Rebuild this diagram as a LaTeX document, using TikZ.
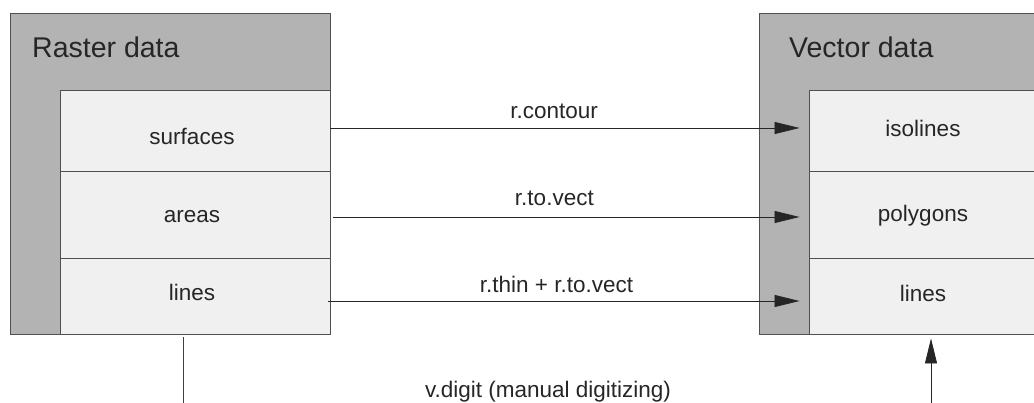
\documentclass[tikz,border=0pt]{standalone}
\usepackage{fontspec}
\setmainfont{Liberation Sans}
\usetikzlibrary{arrows.meta}
\definecolor{boxgray}{HTML}{B3B3B3}
\definecolor{cellfill}{HTML}{F0F0F0}
\definecolor{edgegray}{HTML}{505050}
\definecolor{txt}{HTML}{262626}
\begin{document}
\begin{tikzpicture}[x=1pt,y=-1pt,
  outerbox/.style={draw=edgegray, fill=boxgray, line width=1pt, rectangle, inner sep=0pt, anchor=north west},
  cellbox/.style={draw=edgegray, fill=cellfill, line width=0.9pt, rectangle, inner sep=0pt, text=txt,
    font=\fontsize{22.5}{26}\selectfont},
  titletext/.style={anchor=base west, inner sep=0pt, text=txt, font=\fontsize{28.5}{32}\selectfont},
  lbltext/.style={inner sep=0pt, text=txt, font=\fontsize{22.5}{26}\selectfont},
  conv/.style={draw=black!85, line width=0.8pt, -{Triangle[length=25pt,width=12pt]}},
  plainline/.style={draw=black!75, line width=0.8pt}]
\useasboundingbox (0,0) rectangle (1034,403);
\clip (0,0) rectangle (1034,403);
% Raster side
\node[outerbox, minimum width=320pt, minimum height=321pt] (raster) at (10,13) {};
\node[titletext] (rtitle) at (32,58) {Raster data};
\node[cellbox, minimum width=270pt, minimum height=81pt, text height=29pt, text depth=0pt] (surfaces) at (195,130.5) {\kern-6pt surfaces};
\node[cellbox, minimum width=270pt, minimum height=87pt, text height=17pt, text depth=0pt] (areas) at (195,214.5) {\kern-6pt areas};
\node[cellbox, minimum width=270pt, minimum height=76pt, text height=16pt, text depth=6pt] (rlines) at (195,296) {\kern-6pt lines};
% Vector side
\node[outerbox, minimum width=280pt, minimum height=321pt] (vector) at (759,13) {};
\node[titletext] (vtitle) at (789,58) {Vector data};
\node[cellbox, minimum width=228pt, minimum height=81pt, text height=16pt, text depth=3pt] (isolines) at (923,130.5) {isolines};
\node[cellbox, minimum width=228pt, minimum height=87pt, text height=16pt, text depth=1pt] (polygons) at (923,214.5) {polygons};
\node[cellbox, minimum width=228pt, minimum height=76pt, text height=16pt, text depth=4pt] (vlines) at (923,296) {lines};
% Conversions
\draw[conv, shorten >=9pt] ([yshift=2.5pt]surfaces.east) -- ([yshift=2.5pt]isolines.west)
  node[lbltext, pos=0.468, anchor=base, yshift=9pt] (lcontour) {r.contour};
\draw[conv, shorten >=9pt] ([xshift=3pt,yshift=-2.5pt]areas.east) -- ([yshift=-2.5pt]polygons.west)
  node[lbltext, pos=0.465, anchor=base, yshift=11pt] (lvect) {r.to.vect};
\draw[conv, shorten >=9pt] ([xshift=-2pt,yshift=-5pt]rlines.east) -- ([yshift=-5pt]vlines.west)
  node[lbltext, pos=0.475, anchor=base, yshift=8pt] (lthin) {r.thin + r.to.vect};
% Manual digitizing
\coordinate (digA) at (183,420);
\coordinate (digB) at (931,420);
\draw[plainline] ([xshift=-12pt,yshift=-3pt]rlines.south) -- (digA);
\draw[conv] (digB) -- ([xshift=8pt,yshift=-4pt]vlines.south);
\node[lbltext, anchor=base] (ldigit) at (548,397) {v.digit (manual digitizing)};
\end{tikzpicture}
\end{document}
